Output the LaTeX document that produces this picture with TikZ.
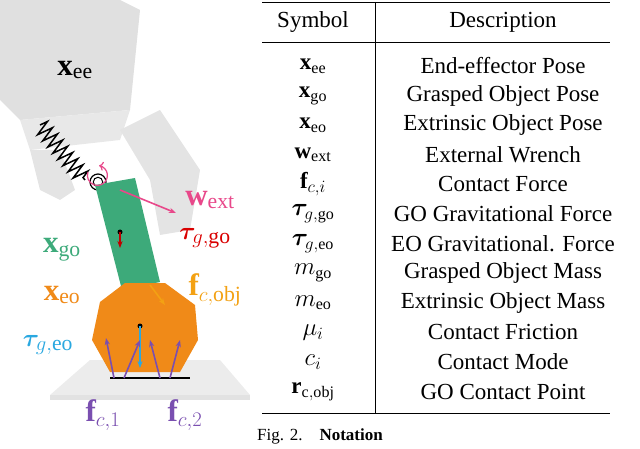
\documentclass[tikz,border=0pt]{standalone}
\usepackage{fontspec}
\setmainfont{Liberation Serif}
\usepackage{amsmath,bm}
\usetikzlibrary{arrows.meta,decorations.pathmorphing}
\definecolor{gogreen}{HTML}{3DAA7A}
\definecolor{eoorange}{HTML}{F08A18}
\definecolor{extpink}{HTML}{E8488A}
\definecolor{tcyan}{HTML}{2AA8E0}
\definecolor{fpurple}{HTML}{7A4FB0}
\definecolor{robgray}{HTML}{D8D8D8}
\begin{document}
\begin{tikzpicture}[x=1pt,y=-1pt,
  tt/.style={font=\fontsize{23}{24}\selectfont, inner sep=0},
  lab/.style={font=\fontsize{31}{32}\selectfont, inner sep=0},
  arr/.style={-{Stealth[length=7pt]}, line width=1.6pt}]
\useasboundingbox (0,0) rectangle (640,449);
% robot
\fill[robgray!80] (0,0) -- (120,0) -- (140,10) -- (130,110) -- (20,120) -- (0,100) -- cycle;
\fill[robgray!60] (20,120) -- (130,110) -- (120,140) -- (30,150) -- cycle;
\fill[robgray!70] (30,150) -- (60,150) -- (75,190) -- (60,200) -- (40,190) -- cycle;
\fill[robgray!70] (120,130) -- (160,110) -- (200,170) -- (190,230) -- (160,235) -- (150,180) -- cycle;
\node[lab] (xee) at (75,70) {$\mathbf{x}_{\mathrm{ee}}$};
% table plane
\fill[robgray!50] (50,395) -- (90,360) -- (220,360) -- (250,395) -- cycle;
\fill[robgray!75] (50,395) -- (250,395) -- (250,400) -- (50,400) -- cycle;
% spring
\draw[line width=1.5pt, decorate, decoration={zigzag, segment length=8pt, amplitude=8pt}] (40,125) -- (85,180);
\node[draw, circle, line width=1.2pt, minimum size=16pt] (spr) at (98,182) {};
\node[draw, circle, line width=1pt, minimum size=8pt] at (98,182) {};
% green object
\fill[gogreen] (95,185) -- (135,178) -- (160,282) -- (122,290) -- cycle;
% orange object
\fill[eoorange] (165,283) -- (195,305) -- (198,340) -- (180,372) -- (110,372) -- (92,340) -- (100,302) -- (125,283) -- cycle;
\draw[line width=1.5pt] (110,378) -- (190,378);
% arrows
\coordinate (go) at (120,232); \coordinate (gob) at (120,248);
\fill (go) circle (2.5);
\draw[arr, extpink] (120,190) -- (176,213);
\draw[arr, red!75!black] (go) -- (gob);
\draw[arr, eoorange!80!yellow] (150,285) -- (165,305);
\fill (140,326) circle (2.5);
\draw[arr, tcyan] (140,326) -- (140,368);
\draw[arr, fpurple] (114,378) -- (106,338);
\draw[arr, fpurple] (124,378) -- (140,340);
\draw[arr, fpurple] (160,378) -- (150,340);
\draw[arr, fpurple] (170,378) -- (180,340);
\draw[extpink, line width=1.2pt, ->] (88,172) arc (200:-80:10);
% labels
\node[lab, extpink] (wext) at (210,200) {$\mathbf{w}_{\mathrm{ext}}$};
\node[lab, red!85!black] (tgo) at (205,238) {$\bm{\tau}_{g,\mathrm{go}}$};
\node[lab, gogreen] (xgo) at (62,250) {$\mathbf{x}_{\mathrm{go}}$};
\node[lab, eoorange] (xeo) at (62,295) {$\mathbf{x}_{\mathrm{eo}}$};
\node[lab, eoorange!80!yellow] (fobj) at (215,290) {$\mathbf{f}_{c,\mathrm{obj}}$};
\node[lab, tcyan] (teo) at (48,345) {$\bm{\tau}_{g,\mathrm{eo}}$};
\node[lab, fpurple] (f1) at (103,415) {$\mathbf{f}_{c,1}$};
\node[lab, fpurple] (f2) at (185,415) {$\mathbf{f}_{c,2}$};
% table
\draw[line width=0.8pt] (262,2) -- (610,2);
\draw[line width=0.5pt] (262,42) -- (610,42);
\draw[line width=0.8pt] (262,413) -- (610,413);
\draw[line width=0.5pt] (375,2) -- (375,413);
\node[tt] (hs) at (313,22) {Symbol};
\node[tt] (hd) at (503,22) {Description};
\foreach \i/\s/\d in {0/{$\mathbf{x}_{\mathrm{ee}}$}/End-effector Pose,
 1/{$\mathbf{x}_{\mathrm{go}}$}/Grasped Object Pose,
 2/{$\mathbf{x}_{\mathrm{eo}}$}/Extrinsic Object Pose,
 3/{$\mathbf{w}_{\mathrm{ext}}$}/External Wrench,
 4/{$\mathbf{f}_{c,i}$}/Contact Force,
 5/{$\bm{\tau}_{g,\mathrm{go}}$}/GO Gravitational Force,
 6/{$\bm{\tau}_{g,\mathrm{eo}}$}/EO Gravitational. Force,
 7/{$m_{\mathrm{go}}$}/Grasped Object Mass,
 8/{$m_{\mathrm{eo}}$}/Extrinsic Object Mass,
 9/{$\mu_i$}/Contact Friction,
 10/{$c_i$}/Contact Mode,
 11/{$\mathbf{r}_{\mathrm{c,obj}}$}/GO Contact Point}
 { \node[tt] (s\i) at (313,66+29.6*\i) {\s};
   \node[tt] (d\i) at (503,66+29.6*\i) {\d}; }
\node[font=\fontsize{17}{19}\selectfont, inner sep=0] (cap) at (320,436) {Fig. 2.\quad\textbf{Notation}};
\end{tikzpicture}
\end{document}
